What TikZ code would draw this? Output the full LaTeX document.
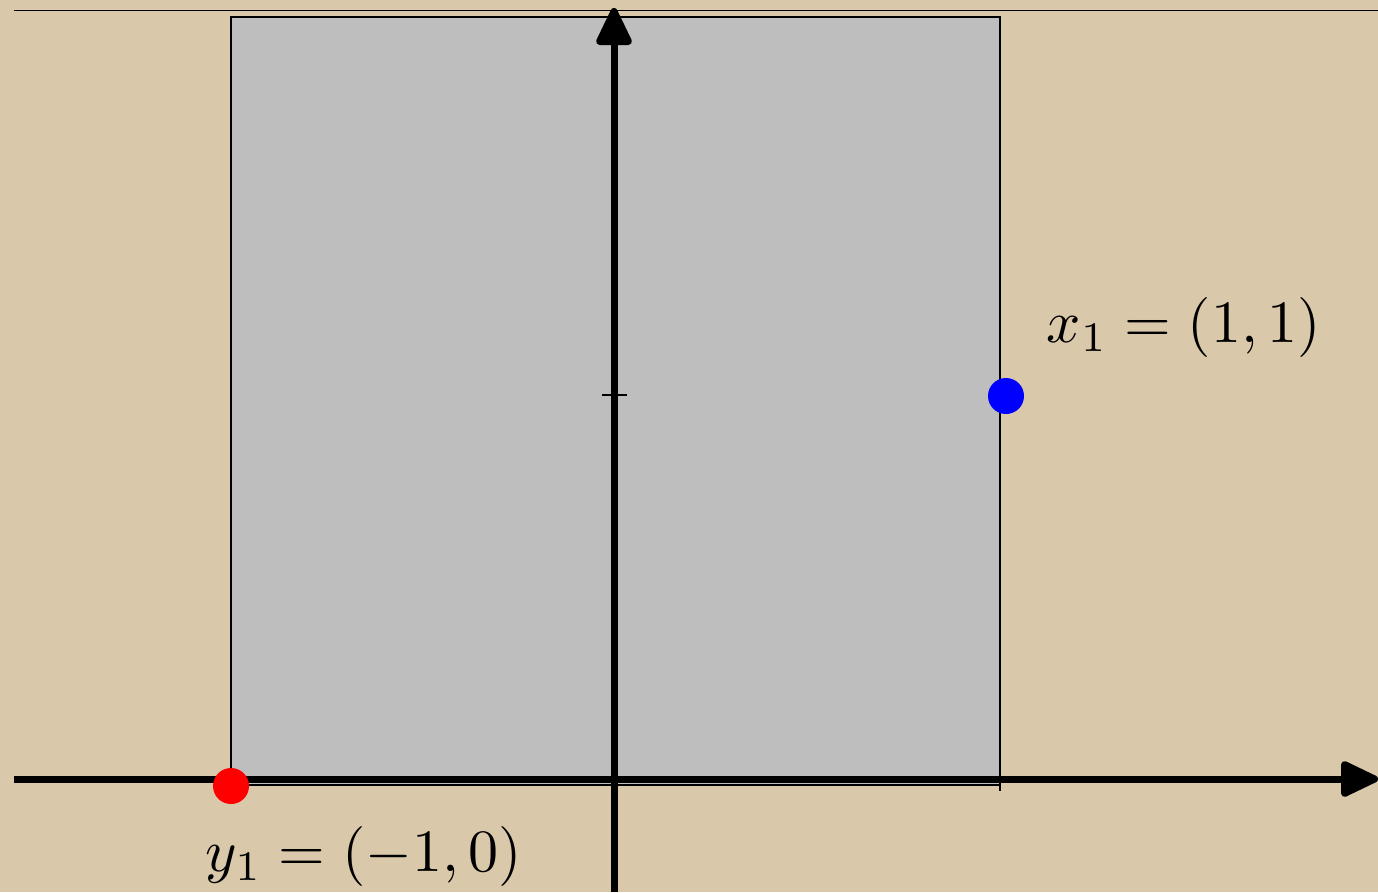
\documentclass[tikz,border=0pt]{standalone}
\usetikzlibrary{arrows.meta}
\definecolor{parch}{RGB}{218,200,170}
\definecolor{boxgray}{RGB}{190,190,190}
\begin{document}
\begin{tikzpicture}[x=1pt,y=-1pt,
  axis/.style={line width=7pt,-{Triangle[length=42pt,width=38pt,round]}},
  dot/.style={circle,inner sep=0pt,minimum size=36pt},
  lbl/.style={inner sep=0pt,anchor=base}]
\fill[parch] (0,0) rectangle (1378,892);
\useasboundingbox (0,0) rectangle (1378,892);
% top line
\coordinate (tl) at (14,10.5);
\coordinate (tr) at (1378,10.5);
\draw[line width=1.5pt] (tl) -- (tr);
% gray square
\coordinate (sq1) at (231,17);
\coordinate (sq2) at (1000,785);
\fill[boxgray] (sq1) rectangle (sq2);
\draw[line width=2.4pt] (231,785) -- (231,17) -- (1000,17) -- (1000,791);
\draw[line width=2.4pt] (231,785) -- (1000,785);
% axes
\coordinate (xs) at (14,779);
\coordinate (xe) at (1378,779);
\coordinate (ys) at (614,892);
\coordinate (ye) at (614,8);
\draw[axis] (xs) -- (xe);
\draw[axis] (ys) -- (ye);
% tick
\coordinate (t1) at (602,395);
\coordinate (t2) at (627,395);
\draw[line width=1.8pt] (t1) -- (t2);
% points
\node[dot,fill=blue] (x1) at (1006,396) {};
\node[dot,fill=red] (y1) at (231,786) {};
\node[lbl] (xl) at (1184,342) {\scalebox{6}{$x_1=(1,1)$}};
\node[lbl] (yl) at (364,871) {\scalebox{6}{$y_1=(-1,0)$}};
\end{tikzpicture}
\end{document}
